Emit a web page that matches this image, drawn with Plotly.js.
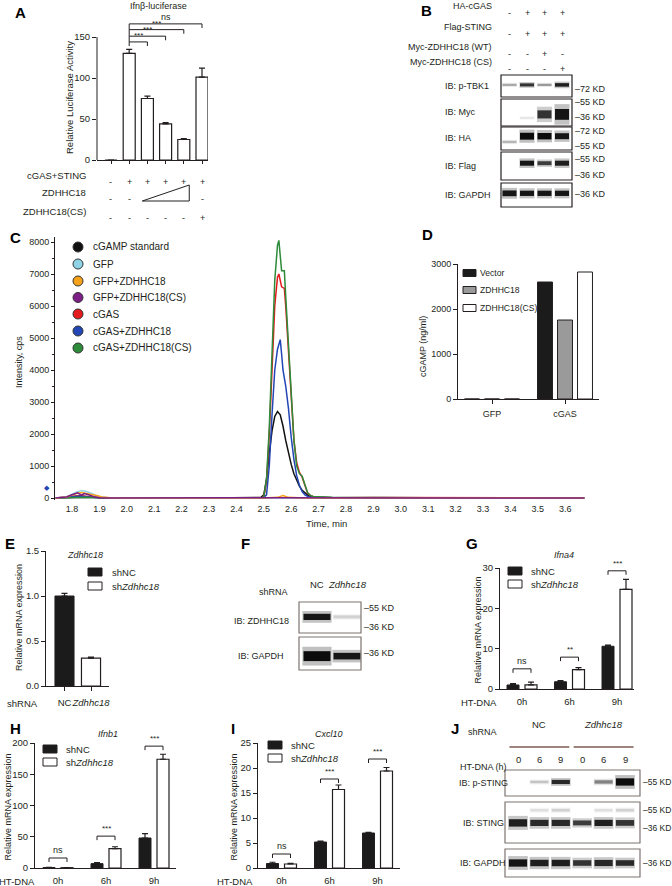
<!DOCTYPE html>
<html><head><meta charset="utf-8">
<script src="https://cdn.plot.ly/plotly-3.0.1.min.js"></script>
<style>html,body{margin:0;padding:0;background:#fff}#chart{width:672px;height:886px}</style>
</head><body><div id="chart"></div>
<script>
// ================= DATA =================
// Panel A  (Ifnb-luciferase)
const aCats = [1,2,3,4,5,6];
const aValues = [0,130,75,44,25,101];
const aErrors = [0,5,3,1.5,1.2,11];
const aRowNames = ['cGAS+STING','ZDHHC18','ZDHHC18(CS)'];
const aRowCgasSting = ['-','+','+','+','+','+'];
const aRowZdhhc18   = ['-','-','','','','-'];
const aRowCS        = ['-','-','-','-','-','+'];
const aSigFrom = 2;
const aSigTo = [3,4,5,6];
const aSigLevel = [144,151,159,166];
const aSigText = ['***','***','***','ns'];

// Panel B (western blot)
const bLanes = [1,2,3,4];
const bRowNames = ['HA-cGAS','Flag-STING','Myc-ZDHHC18 (WT)','Myc-ZDHHC18 (CS)'];
const bRowHAcGAS = ['-','+','+','+'];
const bRowFlagSTING = ['-','+','+','+'];
const bRowWT = ['-','-','+','-'];
const bRowCS = ['-','-','-','+'];
const bBlotNames = ['IB: p-TBK1','IB: Myc','IB: HA','IB: Flag','IB: GAPDH'];
const bPTBK1 = [0.3,0.8,0.35,0.9];
const bMyc = [0,0.08,0.8,0.95];
const bHA = [0.25,1,1,0.95];
const bFlag = [0,0.95,0.75,0.9];
const bGAPDH = [0.95,0.95,0.95,0.95];

// Panel C (chromatograms)
const cNames = ['cGAMP standard','GFP','GFP+ZDHHC18','GFP+ZDHHC18(CS)','cGAS','cGAS+ZDHHC18','cGAS+ZDHHC18(CS)'];
const cStdT = [1.74,1.80,1.85,1.90,2.0,2.3,2.45,2.49,2.50,2.51,2.52,2.53,2.54,2.55,2.56,2.57,2.58,2.59,2.60,2.61,2.62,2.63,2.64,2.65,2.66,2.67,2.68,2.70,2.75,3.0,3.4,3.67];
const cStdV = [0,15,25,10,0,0,10,20,100,600,1400,2100,2550,2700,2600,2250,1800,1400,1050,760,540,370,240,150,90,50,30,15,5,0,0,0];
const cGfpT = [1.74,1.78,1.80,1.82,1.835,1.85,1.87,1.89,1.91,1.95,2.2,2.5,2.6,2.8,3.2,3.67];
const cGfpV = [0,40,120,200,230,210,150,70,20,0,0,5,10,0,5,0];
const cGfpZT = [1.74,1.78,1.80,1.82,1.835,1.85,1.87,1.89,1.91,1.95,2.5,2.55,2.57,2.59,2.65,3.0,3.67];
const cGfpZV = [0,30,90,150,170,150,120,80,30,0,0,20,80,20,0,10,0];
const cGfpCST = [1.74,1.78,1.80,1.82,1.835,1.845,1.86,1.88,1.90,1.93,2.4,2.6,2.9,3.3,3.67];
const cGfpCSV = [0,30,100,160,90,140,100,40,10,0,5,0,10,0,0];
const cGasT = [1.74,1.80,1.83,1.87,1.95,2.49,2.50,2.51,2.52,2.53,2.54,2.55,2.555,2.565,2.575,2.58,2.59,2.60,2.61,2.62,2.63,2.64,2.65,2.66,2.67,2.68,2.70,2.75,2.9,3.67];
const cGasV = [0,40,80,30,0,0,30,500,2000,4000,6000,6900,7000,6600,6550,6000,4500,3000,1800,1100,800,650,400,150,80,50,30,10,15,0];
const cGasZT = [1.74,1.80,1.83,1.87,1.95,2.49,2.50,2.51,2.52,2.53,2.54,2.55,2.56,2.565,2.57,2.58,2.59,2.60,2.61,2.62,2.63,2.64,2.65,2.66,2.67,2.70,2.75,3.67];
const cGasZV = [0,30,60,20,0,0,20,100,1000,2600,4000,4650,4950,4500,4000,3500,2800,1900,1200,700,400,200,100,50,30,20,10,0];
const cGasCST = [1.74,1.80,1.85,1.95,2.49,2.50,2.51,2.52,2.53,2.54,2.55,2.555,2.565,2.575,2.58,2.59,2.60,2.61,2.62,2.63,2.64,2.65,2.66,2.67,2.68,2.70,2.75,3.1,3.67];
const cGasCSV = [0,10,20,0,0,30,600,2200,4500,6800,7900,8050,7100,7100,6300,4700,3100,1800,1000,760,680,420,160,80,50,40,20,10,0];

// Panel D (cGAMP ng/ml)
const dCats = ['GFP','cGAS'];
const dSeries = ['Vector','ZDHHC18','ZDHHC18(CS)'];
const dVector = [0,2600];
const dZdhhc18 = [0,1755];
const dCS = [0,2822];

// Panel E
const eCats = ['NC','Zdhhc18'];
const eValues = [1.0,0.31];
const eErrors = [0.03,0.01];

// Panel F (blot)
const fLanes = [1,2];
const fZDHHC18 = [0.95,0.15];
const fGAPDH = [1.0,0.95];

// Panels G, H, I
const timeCats = ['0h','6h','9h'];
const gNC = [1.0,1.8,10.6], gNCerr = [0.35,0.3,0.3];
const gSh = [1.0,4.8,24.7], gShErr = [0.7,0.5,2.5];
const gSigLevel = [5.0,7.9,29.3], gSigText = ['ns','**','***'];
const hNC = [0.8,7,48], hNCerr = [0.3,1.5,7];
const hSh = [0.5,31,174], hShErr = [0.2,3,8];
const hSigLevel = [16,51,195], hSigText = ['ns','***','***'];
const iNC = [0.9,5.2,7.0], iNCerr = [0.25,0.2,0.15];
const iSh = [0.8,15.7,19.4], iShErr = [0.15,0.9,0.7];
const iSigLevel = [2.8,17.8,21.8], iSigText = ['ns','***','***'];

// Panel J (blot)
const jLanes = [1,2,3,4,5,6];
const jHours = ['0','6','9','0','6','9'];
const jPSTING = [0,0.2,0.85,0,0.45,1.0];
const jSTING = [0.9,0.85,0.85,0.75,0.9,0.8];
const jSTINGupper = [0,0.1,0.15,0,0.1,0.15];
const jGAPDH = [0.95,0.9,0.9,0.8,0.85,0.85];

// ================= LAYOUT HELPERS =================
const W=672, H=886, INK='#231f20', FONT='Liberation Sans, Arial, sans-serif';
const PX = x => x/W, PY = y => 1 - y/H;
const lin = (p0,v0,p1,v1) => p => v0 + (p-p0)*(v1-v0)/(p1-p0);
const traces = [], shapes = [], annotations = [];
const layout = {width:W,height:H,margin:{l:0,r:0,t:0,b:0},showlegend:false,barmode:'overlay',
  paper_bgcolor:'#fff',plot_bgcolor:'rgba(0,0,0,0)',font:{family:FONT,size:9,color:INK},
  shapes, annotations};
const AX = {showgrid:false,zeroline:false,fixedrange:true,linecolor:INK,linewidth:1,tickcolor:INK,
  tickwidth:1,ticklen:4,tickangle:0,tickfont:{size:9.5,color:INK,family:FONT}};
const key = id => id.replace(/^x/,'xaxis').replace(/^y/,'yaxis');
function setX(id,anchor,left,right,f,extra){ layout[key(id)] = Object.assign({},AX,{anchor,domain:[PX(left),PX(right)],range:[f(left),f(right)]},extra||{}); }
function setY(id,anchor,top,bottom,f,extra){ layout[key(id)] = Object.assign({},AX,{anchor,domain:[PY(bottom),PY(top)],range:[f(bottom),f(top)]},extra||{}); }
function txt(x,y,text,o){ annotations.push(Object.assign({xref:'paper',yref:'paper',x:PX(x),y:PY(y),text,showarrow:false,xanchor:'center',yanchor:'middle',font:{size:9,color:INK,family:FONT}},o||{})); }
function letter(x,y,t){ txt(x,y,'<b>'+t+'</b>',{font:{size:15,color:'#000',family:FONT}}); }
function legendRect(x0,x1,yc,h,fill,label,lx,fs){
  shapes.push({type:'rect',xref:'paper',yref:'paper',x0:PX(x0),x1:PX(x1),y0:PY(yc+h/2),y1:PY(yc-h/2),fillcolor:fill,line:{color:INK,width:1}});
  txt(lx,yc,label,{xanchor:'left',font:{size:fs||9.5,color:INK,family:FONT}});
}
function blot(xa,ya,lanes,bands,bw,border){
  shapes.push({type:'rect',xref:xa+' domain',yref:ya+' domain',x0:0,x1:1,y0:0,y1:1,line:{color:border,width:1.2},fillcolor:'rgba(0,0,0,0)'});
  bands.forEach(b=>{
    const pos = Array.isArray(b.pos)?b.pos:lanes.map(()=>b.pos);
    const hs = Array.isArray(b.h)?b.h:lanes.map(()=>b.h);
    traces.push({type:'bar',xaxis:xa,yaxis:ya,x:lanes,y:hs.map(h=>h*1.9),base:pos.map((p,i)=>p-hs[i]*0.95),width:bw*1.08,
      marker:{color:b.v.map(v=>'rgba(30,30,30,'+(v*0.28).toFixed(3)+')'),line:{width:0}},hoverinfo:'skip'});
    traces.push({type:'bar',xaxis:xa,yaxis:ya,x:lanes,y:hs,base:pos.map((p,i)=>p-hs[i]/2),width:bw,
      marker:{color:b.v.map(v=>'rgba(12,12,12,'+v.toFixed(3)+')'),line:{width:0}},hoverinfo:'skip'});
  });
}
function errBar(arr){ return {type:'data',symmetric:false,array:arr,arrayminus:arr.map(()=>0),color:INK,thickness:1.2,width:3}; }
function sigBrackets(xa,ya,centers,offL,offR,levels,texts,drop){
  const x=[],y=[];
  centers.forEach((c,i)=>{ x.push(c+offL,c+offL,c+offR,c+offR,null); y.push(levels[i]-drop,levels[i],levels[i],levels[i]-drop,null);
    annotations.push({xref:xa,yref:ya,x:c+(offL+offR)/2,y:levels[i],yshift:1,text:texts[i],showarrow:false,yanchor:'bottom',font:{size:texts[i]==='ns'?9:8,color:INK,family:FONT}}); });
  traces.push({type:'scatter',mode:'lines',xaxis:xa,yaxis:ya,x,y,line:{color:INK,width:1},hoverinfo:'skip',cliponaxis:false});
}

// ================= PANEL A =================
letter(20,12,'A');
txt(158,6,'Ifnβ-luciferase',{font:{size:9,color:INK,family:FONT}});
const aX = lin(111,1,129.2,2), aY = lin(160,0,37,150);
setX('x','y',97,208,aX,{showline:true,ticks:'outside',ticklen:3,tickvals:aCats,showticklabels:false});
setY('y','x',20,160,aY,{showline:false,ticks:'outside',tickvals:[0,50,100,150]});
shapes.push({type:'line',xref:'x domain',yref:'y',x0:0,x1:0,y0:0,y1:150,line:{color:INK,width:1}});
traces.push({type:'bar',xaxis:'x',yaxis:'y',x:aCats,y:aValues,width:0.66,marker:{color:'#fff',line:{color:INK,width:1.2}},error_y:errBar(aErrors)});
(function(){ const x=[],y=[];
  aSigTo.forEach((j,k)=>{ const l=aSigLevel[k]; const lowL = k===0? l-5 : aSigLevel[k-1];
    x.push(aSigFrom,aSigFrom,j,j,null); y.push(lowL,l,l,l-5,null);
    annotations.push({xref:'x',yref:'y',x:(aSigFrom+j)/2,y:l,yshift:0,text:aSigText[k],showarrow:false,yanchor:'bottom',font:{size:aSigText[k]==='ns'?9:8,color:INK,family:FONT}}); });
  traces.push({type:'scatter',mode:'lines',xaxis:'x',yaxis:'y',x,y,line:{color:INK,width:1},hoverinfo:'skip'});
})();
txt(69,98,'Relative Luciferase Activity',{textangle:-90,font:{size:9.5,color:INK,family:FONT}});
[[aRowCgasSting,175],[aRowZdhhc18,192],[aRowCS,211]].forEach((r,i)=>{
  txt(88,r[1],aRowNames[i],{xanchor:'right',font:{size:9.5,color:INK,family:FONT}});
  r[0].forEach((s,k)=>{ if(s) annotations.push({xref:'x',yref:'paper',x:aCats[k],y:PY(r[1]),text:s,showarrow:false,font:{size:9,color:INK,family:FONT}}); });
});
shapes.push({type:'path',xref:'x',yref:'paper',path:`M 2.72,${PY(201)} L 5.3,${PY(201)} L 5.3,${PY(185)} Z`,line:{color:INK,width:1},fillcolor:'rgba(0,0,0,0)'});

// ================= PANEL B =================
letter(426,10,'B');
const bX = lin(509.5,1,527,2);
setX('x2','y2',501,572,bX,{visible:false});
const bBoxes = [[75,97],[99,126],[127,150],[152,180],[183,207]];
bBoxes.forEach((bx,i)=>setY('y'+(i+2),'x2',bx[0],bx[1],lin(bx[1],0,bx[0],1),{visible:false}));
[[bRowHAcGAS,6],[bRowFlagSTING,27],[bRowWT,47],[bRowCS,62]].forEach((r,i)=>{
  txt(494,r[1],bRowNames[i],{xanchor:'right'});
  r[0].forEach((s,k)=>annotations.push({xref:'x2',yref:'paper',x:bLanes[k],y:PY(r[1]),text:s,showarrow:false,font:{size:9,color:INK,family:FONT}}));
});
blot('x2','y2',bLanes,[{pos:0.55,h:[0.1,0.14,0.1,0.16],v:bPTBK1}],0.8,INK);
blot('x2','y3',bLanes,[{pos:[0.41,0.3,0.43,0.43],h:[0,0.08,0.3,0.4],v:bMyc}],0.8,INK);
blot('x2','y4',bLanes,[{pos:[0.35,0.6,0.6,0.6],h:[0.1,0.3,0.28,0.26],v:bHA}],0.8,INK);
blot('x2','y5',bLanes,[{pos:0.6,h:[0,0.18,0.14,0.18],v:bFlag}],0.8,INK);
blot('x2','y6',bLanes,[{pos:0.57,h:[0.24,0.22,0.22,0.22],v:bGAPDH}],0.8,INK);
bBlotNames.forEach((n,i)=>txt(443,(bBoxes[i][0]+bBoxes[i][1])/2,n,{xanchor:'left'}));
[['–72 KD',89],['–55 KD',102],['–36 KD',117],['–72 KD',131],['–55 KD',146],['–55 KD',159],['–36 KD',175],['–36 KD',194]]
  .forEach(m=>txt(573,m[1],m[0],{xanchor:'left'}));

// ================= PANEL C =================
letter(15,237,'C');
const cX = lin(72,1.8,346,2.8), cY = lin(498,0,242,8000);
setX('x3','y7',55,585,cX,{showline:false,ticks:'',tickmode:'linear',tick0:1.8,dtick:0.1,tickformat:'.1f',ticklabelstandoff:2,tickfont:{size:9,color:INK,family:FONT}});
setY('y7','x3',237,500,cY,{showline:true,ticks:'outside',ticklen:3,tickmode:'linear',tick0:0,dtick:1000,tickfont:{size:9,color:INK,family:FONT},minor:{dtick:500,ticks:'outside',ticklen:2,tickcolor:INK}});
const cColors = ['#111111','#8ed4e6','#f7a21b','#7d1d86','#e41a1c','#2346b5','#2e8b3a'];
const cSeries = [[cStdT,cStdV,0],[cGasT,cGasV,4],[cGasZT,cGasZV,5],[cGasCST,cGasCSV,6],[cGfpT,cGfpV,1],[cGfpZT,cGfpZV,2],[cGfpCST,cGfpCSV,3]];
cSeries.forEach(s=>traces.push({type:'scatter',mode:'lines',xaxis:'x3',yaxis:'y7',x:s[0],y:s[1],name:cNames[s[2]],line:{color:cColors[s[2]],width:1.5},hoverinfo:'skip'}));
const cLegY = [247,264,281,297.5,314,331,348];
cNames.forEach((n,i)=>{
  shapes.push({type:'circle',xref:'paper',yref:'paper',x0:PX(73),x1:PX(83),y0:PY(cLegY[i]+5),y1:PY(cLegY[i]-5),fillcolor:cColors[i],line:{color:'#333',width:1}});
  txt(91,cLegY[i],n,{xanchor:'left',font:{size:10,color:INK,family:FONT}});
});
txt(19,362,'Intensity, cps',{textangle:-90,font:{size:9,color:INK,family:FONT}});
txt(326,523,'Time, min',{font:{size:9.5,color:INK,family:FONT}});
txt(47,488,'◆',{font:{size:7,color:'#2346b5',family:'DejaVu Sans'}});

// ================= PANEL D =================
letter(427,235,'D');
const dX = lin(492,0,565,1), dY = lin(399,0,264,3000);
setX('x4','y8',458,599,dX,{showline:true,ticks:'outside',tickvals:[0,1],ticktext:dCats,ticklabelstandoff:2,tickfont:{size:9,color:INK,family:FONT}});
setY('y8','x4',264,399,dY,{showline:true,ticks:'outside',tickvals:[0,1000,2000,3000],tickfont:{size:9,color:INK,family:FONT}});
const dW = 0.205, dOff = [-0.274,0,0.274], dFill = ['#1b1b1b','#9a9a9a','#ffffff'];
[dVector,dZdhhc18,dCS].forEach((v,i)=>traces.push({type:'bar',xaxis:'x4',yaxis:'y8',x:[0,1],y:v,name:dSeries[i],width:dW,offset:dOff[i]-dW/2,marker:{color:dFill[i],line:{color:INK,width:1}}}));
[273,290,308].forEach((y,i)=>legendRect(463,476,y,7,dFill[i],dSeries[i],478,8.6));
txt(423,347,'cGAMP (ng/ml)',{textangle:-90,font:{size:9,color:INK,family:FONT}});

// ================= PANEL E =================
letter(10,543,'E');
const eX = lin(64.5,0,91,1), eY = lin(686,0,551,1.5);
setX('x5','y9',46,109,eX,{showline:true,ticks:'outside',tickvals:[0,1],ticktext:['NC','<i>Zdhhc18</i>'],ticklabelstandoff:4});
setY('y9','x5',551,686,eY,{showline:true,ticks:'outside',tickvals:[0,0.5,1,1.5],ticktext:['0.0','0.5','1.0','1.5']});
traces.push({type:'bar',xaxis:'x5',yaxis:'y9',x:[0],y:[eValues[0]],name:'shNC',width:0.72,marker:{color:'#1b1b1b',line:{color:INK,width:1}},error_y:errBar([eErrors[0]])});
traces.push({type:'bar',xaxis:'x5',yaxis:'y9',x:[1],y:[eValues[1]],name:'shZdhhc18',width:0.72,marker:{color:'#fff',line:{color:INK,width:1.2}},error_y:errBar([eErrors[1]])});
txt(5,703,'shRNA',{xanchor:'left',font:{size:9.5,color:INK,family:FONT}});
txt(85,555,'<i>Zdhhc18</i>');
legendRect(88,102,572,8,'#1b1b1b','shNC',110);
legendRect(88,102,586,8,'#fff','sh<i>Zdhhc18</i>',110);
txt(19,618,'Relative mRNA expression',{textangle:-90});

// ================= PANEL F =================
letter(245,543,'F');
const fX = lin(317,1,347,2);
setX('x6','y10',299,361,fX,{visible:false});
setY('y10','x6',602,633,lin(633,0,602,1),{visible:false});
setY('y11','x6',637,670,lin(670,0,637,1),{visible:false});
blot('x6','y10',fLanes,[{pos:0.52,h:[0.2,0.1],v:fZDHHC18}],0.9,'#7d7470');
blot('x6','y11',fLanes,[{pos:0.42,h:[0.3,0.2],v:fGAPDH}],0.9,'#7d7470');
txt(273,592,'shRNA');
annotations.push({xref:'x6',yref:'paper',x:fLanes[0],y:PY(592),text:'NC',showarrow:false,font:{size:9.5,color:INK,family:FONT}});
annotations.push({xref:'x6',yref:'paper',x:fLanes[1],y:PY(592),text:'<i>Zdhhc18</i>',showarrow:false,font:{size:9.5,color:INK,family:FONT}});
txt(261,621,'IB: ZDHHC18'); txt(261,656,'IB: GAPDH');
[['–55 KD',608],['–36 KD',627],['–36 KD',653]].forEach(m=>txt(362,m[1],m[0],{xanchor:'left'}));

// ================= PANELS G, H, I =================
function timePanel(o){
  letter(o.letter[0],o.letter[1],o.L);
  const fx = lin(o.g0,0,o.g2,2), fy = lin(o.bottom,0,o.top,o.ymax);
  setX(o.xa,o.ya,o.left,o.right,fx,{showline:true,ticks:'',tickvals:[0,1,2],ticktext:timeCats,ticklabelstandoff:4});
  setY(o.ya,o.xa,o.top,o.bottom,fy,{showline:true,ticks:'outside',tickvals:o.yticks});
  const sp = (o.g2-o.g0)/2, off = 9/sp, w = 12/sp;
  traces.push({type:'bar',xaxis:o.xa,yaxis:o.ya,x:[0,1,2],y:o.nc,name:'shNC',width:w,offset:-off-w/2,marker:{color:'#1b1b1b',line:{color:INK,width:1}},error_y:errBar(o.ncErr)});
  traces.push({type:'bar',xaxis:o.xa,yaxis:o.ya,x:[0,1,2],y:o.sh,name:'shZdhhc18',width:w,offset:off-w/2,marker:{color:'#fff',line:{color:INK,width:1.2}},error_y:errBar(o.shErr)});
  sigBrackets(o.xa,o.ya,[0,1,2],-off,off,o.sigL,o.sigT,4*o.ymax/(o.bottom-o.top));
  txt(o.title[0],o.title[1],'<i>'+o.titleText+'</i>');
  legendRect(o.leg[0],o.leg[0]+14,o.leg[1],8,'#1b1b1b','shNC',o.leg[0]+21);
  legendRect(o.leg[0],o.leg[0]+14,o.leg[1]+13,8,'#fff','sh<i>Zdhhc18</i>',o.leg[0]+21);
  txt(o.ytitleX,(o.top+o.bottom)/2+2,'Relative mRNA expression',{textangle:-90});
  txt(o.htX,o.bottom+13,'HT-DNA',{font:{size:9.5,color:INK,family:FONT}});
}
timePanel({L:'G',letter:[472,543],xa:'x7',ya:'y12',left:500,right:634,g0:522,g2:617,top:568,bottom:689,ymax:30,yticks:[0,10,20,30],
  nc:gNC,ncErr:gNCerr,sh:gSh,shErr:gShErr,sigL:gSigLevel,sigT:gSigText,title:[564,555],titleText:'Ifna4',leg:[508,571],ytitleX:477,htX:479});
timePanel({L:'H',letter:[15,728],xa:'x8',ya:'y13',left:35,right:176,g0:58,g2:154,top:743,bottom:868,ymax:200,yticks:[0,50,100,150,200],
  nc:hNC,ncErr:hNCerr,sh:hSh,shErr:hShErr,sigL:hSigLevel,sigT:hSigText,title:[108,734],titleText:'Ifnb1',leg:[43,749],ytitleX:7,htX:17});
timePanel({L:'I',letter:[233,728],xa:'x9',ya:'y14',left:258,right:400,g0:281.5,g2:377.5,top:743,bottom:868,ymax:25,yticks:[0,5,10,15,20,25],
  nc:iNC,ncErr:iNCerr,sh:iSh,shErr:iShErr,sigL:iSigLevel,sigT:iSigText,title:[329,734],titleText:'Cxcl10',leg:[268,745],ytitleX:233,htX:235});

// ================= PANEL J =================
letter(455,728,'J');
const jX = lin(518,1,625,6);
setX('x10','y15',505,640,jX,{visible:false});
setY('y15','x10',770,796,lin(796,0,770,1),{visible:false});
setY('y16','x10',802,843,lin(843,0,802,1),{visible:false});
setY('y17','x10',849,877,lin(877,0,849,1),{visible:false});
blot('x10','y15',jLanes,[{pos:0.54,h:[0,0.1,0.16,0,0.13,0.28],v:jPSTING}],0.85,'#7d7470');
blot('x10','y16',jLanes,[{pos:0.49,h:[0.18,0.15,0.15,0.12,0.15,0.14],v:jSTING},{pos:0.8,h:0.07,v:jSTINGupper}],0.85,'#7d7470');
blot('x10','y17',jLanes,[{pos:0.5,h:[0.26,0.23,0.23,0.2,0.22,0.2],v:jGAPDH}],0.85,'#7d7470');
txt(482,732,'shRNA');
annotations.push({xref:'x10',yref:'paper',x:2,y:PY(732),text:'NC',showarrow:false,font:{size:9.5,color:INK,family:FONT}});
annotations.push({xref:'x10',yref:'paper',x:5,y:PY(732),text:'<i>Zdhhc18</i>',showarrow:false,font:{size:9.5,color:INK,family:FONT}});
shapes.push({type:'line',xref:'x10',yref:'paper',x0:2-1.4,x1:2+1.4,y0:PY(747),y1:PY(747),line:{color:'#7a5c50',width:1.5}});
shapes.push({type:'line',xref:'x10',yref:'paper',x0:5-1.4,x1:5+1.4,y0:PY(747),y1:PY(747),line:{color:'#7a5c50',width:1.5}});
txt(483,767,'HT-DNA (h)');
jHours.forEach((h,k)=>annotations.push({xref:'x10',yref:'paper',x:jLanes[k],y:PY(767),text:h,showarrow:false,font:{size:9.5,color:INK,family:FONT}}));
txt(483,783,'IB: p-STING'); txt(483,823,'IB: STING'); txt(483,863,'IB: GAPDH');
[['–55 KD',782],['–55 KD',810],['–36 KD',828],['–36 KD',863]].forEach(m=>txt(641,m[1],m[0],{xanchor:'left',font:{size:8.5,color:INK,family:FONT}}));

Plotly.newPlot('chart',traces,layout,{displayModeBar:false,staticPlot:true});
</script></body></html>
